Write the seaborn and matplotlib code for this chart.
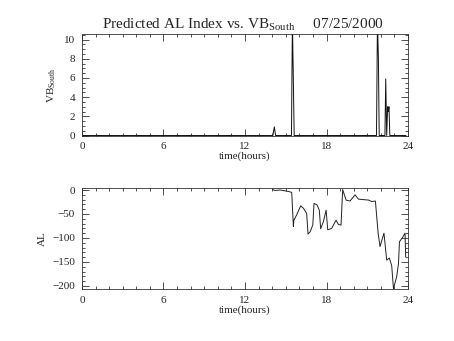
import numpy as np
import pandas as pd
import matplotlib
matplotlib.use("Agg")
import matplotlib.pyplot as plt
import seaborn as sns
from matplotlib.ticker import MultipleLocator

# ---- data ----
vb_time = [0.0, 14.05, 14.16, 14.25, 15.42, 15.49, 15.55, 15.62,
           21.68, 21.75, 21.82, 21.88, 22.30, 22.36, 22.43, 22.50,
           22.55, 22.60, 22.66, 23.85]
vb_values = [0, 0, 0.9, 0, 0, 12.0, 6.6, 0,
             0, 12.0, 8.0, 0, 0, 5.9, 0, 3.0,
             2.5, 3.0, 0, 0]

al_time = [14.04, 14.2, 14.58, 14.8, 15.2, 15.44, 15.56, 15.6, 15.8, 16.1,
           16.3, 16.54, 16.64, 16.8, 16.99, 17.08, 17.3, 17.47, 17.57, 17.77,
           17.97, 18.09, 18.38, 18.7, 18.88, 19.07, 19.19, 19.44, 19.73, 20.1,
           20.35, 20.7, 21.1, 21.33, 21.6, 21.8, 21.94, 22.23, 22.43, 22.63,
           22.8, 22.93, 23.17, 23.3, 23.37, 23.6, 23.78, 23.83]
al_values = [1, -1, 0, -1, -3, -5, -76, -63, -52, -33,
             -38, -49, -92, -87, -73, -28, -31, -42, -81, -66,
             -42, -83, -80, -63, -72, -73, 1, -21, -23, -10,
             -19, -20, -21, -24, -23, -90, -118, -90, -146, -142,
             -158, -206, -180, -153, -108, -99, -90, -139]

x_ticks = [0, 6, 12, 18, 24]
title_text = r"Predicted AL Index vs. VB$_{\mathrm{South}}$     07/25/2000"

sns.set_style("ticks")
plt.rcParams["font.family"] = ["Liberation Serif", "DejaVu Serif"]
plt.rcParams["mathtext.fontset"] = "custom"
plt.rcParams["mathtext.rm"] = "Liberation Serif"
plt.rcParams["mathtext.it"] = "Liberation Serif:italic"

fig = plt.figure(figsize=(4.54, 3.41), dpi=100)
ax1 = fig.add_axes([0.1806, 0.6026, 0.7181, 0.2968])
ax2 = fig.add_axes([0.1806, 0.1525, 0.7181, 0.2962])

vb_df = pd.DataFrame({"t": vb_time, "v": vb_values})
al_df = pd.DataFrame({"t": al_time, "v": al_values})

sns.lineplot(data=vb_df, x="t", y="v", ax=ax1, estimator=None, sort=False,
             color="#111111", linewidth=0.7)
sns.lineplot(data=al_df, x="t", y="v", ax=ax2, estimator=None, sort=False,
             color="#222222", linewidth=0.7)

fs = 8
for ax in (ax1, ax2):
    ax.set_xlim(0, 24)
    ax.set_xticks(x_ticks)
    ax.xaxis.set_minor_locator(MultipleLocator(1))
    ax.tick_params(which="both", direction="in", top=True, right=True,
                   width=0.6, color="#333333", labelsize=fs, pad=5)
    ax.tick_params(which="major", length=5)
    ax.tick_params(which="minor", length=2.5)
    for s in ax.spines.values():
        s.set_linewidth(0.6)
        s.set_color("#333333")
    ax.set_xlabel("time(hours)", fontsize=fs, labelpad=0)
    ax.grid(False)

ax1.set_ylim(0, 10.55)
ax1.set_yticks([0, 2, 4, 6, 8, 10])
ax1.yaxis.set_minor_locator(MultipleLocator(0.5))
ax1.set_ylabel(r"VB$_{\mathrm{South}}$", fontsize=fs, labelpad=4)

ax2.set_ylim(-206.5, 4.2)
ax2.set_yticks([0, -50, -100, -150, -200])
ax2.yaxis.set_minor_locator(MultipleLocator(10))
ax2.set_ylabel("AL", fontsize=fs, labelpad=4)

fig.text(0.535, 0.928, title_text, ha="center", va="center", fontsize=11)

fig.savefig("out.png", dpi=100)
